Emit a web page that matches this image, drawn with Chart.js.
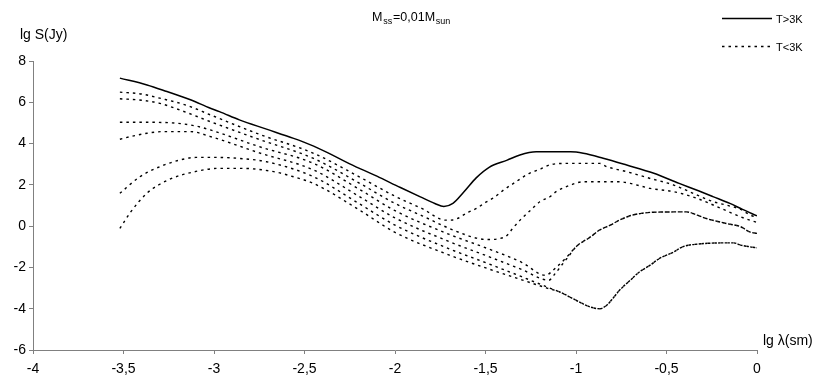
<!DOCTYPE html>
<html>
<head>
<meta charset="utf-8">
<script src="https://cdn.jsdelivr.net/npm/chart.js@4.4.1/dist/chart.umd.min.js"></script>
<style>
  html, body { margin: 0; padding: 0; background: #fff; }
</style>
</head>
<body>
<canvas id="chart" width="830" height="392"></canvas>
<script>
const FONT = '"Liberation Sans", Arial, sans-serif';

// lg lambda (sm) / lg S (Jy)
const hotX = [-3.52, -3.37, -3.26, -3.13, -3.02, -2.97, -2.86, -2.71, -2.56, -2.47, -2.37, -2.25, -2.10, -1.97, -1.86, -1.78, -1.73, -1.68, -1.62, -1.55, -1.48, -1.38, -1.31, -1.22, -1.03, -0.96, -0.85, -0.72, -0.57, -0.43, -0.32, -0.24, -0.15, -0.08, 0];
const hotY = [7.17, 6.84, 6.52, 6.12, 5.71, 5.55, 5.15, 4.70, 4.25, 3.95, 3.55, 3.02, 2.42, 1.87, 1.42, 1.10, 0.95, 1.10, 1.65, 2.35, 2.85, 3.20, 3.45, 3.60, 3.60, 3.53, 3.29, 2.96, 2.56, 2.07, 1.70, 1.42, 1.10, 0.81, 0.50];

const cold1X = [-3.52, -3.4, -3.3, -3.15, -3.02, -2.75, -2.45, -2.2, -2.0, -1.85, -1.72, -1.68, -1.6, -1.55, -1.5, -1.45, -1.4, -1.34, -1.26, -1.2, -1.14, -1.05, -0.87, -0.83, -0.72, -0.59, -0.46, -0.33, -0.24, -0.17, -0.09, -0.04, 0];
const cold1Y = [6.49, 6.40, 6.20, 5.85, 5.39, 4.45, 3.53, 2.40, 1.45, 0.85, 0.29, 0.30, 0.65, 0.86, 1.15, 1.40, 1.75, 2.10, 2.55, 2.75, 2.98, 3.04, 3.04, 2.88, 2.64, 2.31, 1.99, 1.50, 1.18, 1.02, 0.81, 0.55, 0.42];

const cold2X = [-3.52, -3.4, -3.3, -3.15, -3.02, -2.75, -2.45, -2.2, -2.0, -1.85, -1.7, -1.6, -1.55, -1.49, -1.42, -1.38, -1.35, -1.3, -1.25, -1.2, -1.14, -1.11, -1.03, -0.96, -0.76, -0.70, -0.59, -0.46, -0.33, -0.22, -0.09, -0.04, 0];
const cold2Y = [6.17, 6.10, 5.95, 5.50, 5.06, 4.20, 3.28, 2.10, 1.10, 0.50, -0.11, -0.45, -0.58, -0.65, -0.60, -0.44, -0.11, 0.37, 0.78, 1.18, 1.45, 1.67, 1.99, 2.15, 2.15, 2.07, 1.83, 1.67, 1.34, 0.94, 0.45, 0.29, 0.18];

const cold3X = [-3.52, -3.35, -3.2, -3.1, -3.02, -2.75, -2.45, -2.2, -2.0, -1.7, -1.49, -1.3, -1.17, -1.11, -1.05, -1.0, -0.92, -0.87, -0.81, -0.76, -0.69, -0.55, -0.39, -0.33, -0.28, -0.17, -0.09, -0.04, 0];
const cold3Y = [5.03, 5.03, 4.98, 4.85, 4.66, 3.85, 3.04, 1.80, 0.75, -0.40, -1.08, -1.75, -2.38, -2.00, -1.49, -1.00, -0.52, -0.19, 0.05, 0.29, 0.53, 0.68, 0.69, 0.53, 0.37, 0.13, -0.03, -0.28, -0.35];

const cold4X = [-3.52, -3.46, -3.37, -3.28, -3.13, -3.02, -2.75, -2.45, -2.2, -2.0, -1.7, -1.49, -1.3, -1.15, -1.12, -1.08, -1.04, -1.0, -0.92, -0.87, -0.81, -0.76, -0.69, -0.55, -0.39, -0.33, -0.28, -0.17, -0.09, -0.04, 0];
const cold4Y = [4.21, 4.34, 4.50, 4.58, 4.58, 4.34, 3.55, 2.72, 1.45, 0.40, -0.75, -1.45, -2.10, -2.62, -2.35, -1.90, -1.45, -1.00, -0.52, -0.19, 0.05, 0.29, 0.53, 0.68, 0.69, 0.53, 0.37, 0.13, -0.03, -0.28, -0.35];

const cold5X = [-3.52, -3.41, -3.30, -3.19, -3.1, -2.98, -2.86, -2.71, -2.45, -2.2, -2.0, -1.7, -1.49, -1.3, -1.16, -1.09, -1.0, -0.92, -0.87, -0.83, -0.79, -0.76, -0.70, -0.65, -0.59, -0.54, -0.46, -0.41, -0.33, -0.13, -0.09, -0.04, 0];
const cold5Y = [1.59, 2.39, 2.88, 3.20, 3.33, 3.33, 3.28, 3.12, 2.39, 1.10, 0.05, -1.10, -1.80, -2.45, -2.95, -3.19, -3.59, -3.92, -4.00, -3.83, -3.43, -3.11, -2.62, -2.22, -1.89, -1.57, -1.25, -1.00, -0.87, -0.81, -0.92, -1.00, -1.05];

const cold6X = [-3.52, -3.46, -3.37, -3.25, -3.1, -2.97, -2.85, -2.67, -2.56, -2.45, -2.2, -2.0, -1.7, -1.49, -1.3, -1.16, -1.09, -1.0, -0.92, -0.87, -0.83, -0.79, -0.76, -0.70, -0.65, -0.59, -0.54, -0.46, -0.41, -0.33, -0.13, -0.09, -0.04, 0];
const cold6Y = [-0.11, 0.69, 1.60, 2.25, 2.65, 2.80, 2.80, 2.64, 2.39, 2.07, 0.80, -0.30, -1.40, -2.05, -2.60, -3.00, -3.19, -3.59, -3.92, -4.00, -3.83, -3.43, -3.11, -2.62, -2.22, -1.89, -1.57, -1.25, -1.00, -0.87, -0.81, -0.92, -1.00, -1.05];

const legendLabels = ['T>3K', 'T<3K'];
const xTickStep = 0.5;
const yTickStep = 2;
const xRange = [-4, 0];
const yRange = [-6, 8];

const toPoints = (xs, ys) => xs.map((x, i) => ({ x: x, y: ys[i] }));

const solidStyle = { borderColor: '#000', borderWidth: 1.5, borderDash: [] };
const dotStyle = { borderColor: '#000', borderWidth: 1.4, borderDash: [2.5, 4] };

const datasets = [
  { label: legendLabels[0], data: toPoints(hotX, hotY), ...solidStyle },
  { label: legendLabels[1], data: toPoints(cold1X, cold1Y), ...dotStyle },
  { label: legendLabels[1], data: toPoints(cold2X, cold2Y), ...dotStyle },
  { label: legendLabels[1], data: toPoints(cold3X, cold3Y), ...dotStyle },
  { label: legendLabels[1], data: toPoints(cold4X, cold4Y), ...dotStyle },
  { label: legendLabels[1], data: toPoints(cold5X, cold5Y), ...dotStyle },
  { label: legendLabels[1], data: toPoints(cold6X, cold6Y), ...dotStyle },
];

// texts, title with subscripts, and the legend at top right
const labelsPlugin = {
  id: 'labels',
  afterDraw(chart) {
    const ctx = chart.ctx;
    const area = chart.chartArea;
    ctx.save();
    ctx.fillStyle = '#000';
    ctx.textBaseline = 'alphabetic';

    ctx.font = '14px ' + FONT;
    ctx.textAlign = 'left';
    ctx.fillText('lg S(Jy)', 20, 39);
    ctx.fillText('lg \u03bb(sm)', area.right + 6, area.bottom - 5);

    // M_ss=0,01M_sun
    let x = 372;
    const parts = [['M', false], ['ss', true], ['=0,01M', false], ['sun', true]];
    parts.forEach(([t, sub]) => {
      ctx.font = (sub ? '9px ' : '12.5px ') + FONT;
      ctx.fillText(t, x, sub ? 23.5 : 21);
      x += ctx.measureText(t).width + 0.8;
    });

    // legend
    ctx.font = '11px ' + FONT;
    const rows = [[datasets[0], 18.5], [datasets[1], 46.5]];
    rows.forEach(([ds, y]) => {
      ctx.save();
      ctx.strokeStyle = ds.borderColor;
      ctx.lineWidth = ds.borderWidth;
      ctx.setLineDash(ds.borderDash);
      ctx.beginPath();
      ctx.moveTo(722, y);
      ctx.lineTo(772, y);
      ctx.stroke();
      ctx.restore();
      ctx.fillText(ds.label, 776, y + 4);
    });
    ctx.restore();
  }
};

const axisStyle = {
  grid: { drawOnChartArea: false, drawTicks: true, tickLength: 4, color: '#808080' },
  border: { color: '#808080', width: 1 },
};

new Chart(document.getElementById('chart'), {
  type: 'scatter',
  data: { datasets: datasets },
  options: {
    responsive: false,
    animation: false,
    layout: { padding: { top: 61, right: 73, left: 0, bottom: 0 } },
    elements: {
      point: { radius: 0, hoverRadius: 0 },
      line: { tension: 0, fill: false, cubicInterpolationMode: 'monotone' }
    },
    datasets: { scatter: { showLine: true } },
    plugins: { legend: { display: false }, tooltip: { enabled: false }, title: { display: false } },
    scales: {
      x: {
        type: 'linear',
        min: xRange[0], max: xRange[1],
        ...axisStyle,
        ticks: {
          stepSize: xTickStep,
          color: '#000',
          padding: 7,
          font: { size: 14, family: FONT },
          callback: v => String(v).replace('.', ',')
        },
        afterFit: s => { s.height = 42; }
      },
      y: {
        type: 'linear',
        min: yRange[0], max: yRange[1],
        ...axisStyle,
        ticks: {
          stepSize: yTickStep,
          color: '#000',
          padding: 3,
          font: { size: 14, family: FONT }
        },
        afterFit: s => { s.width = 33; }
      }
    }
  },
  plugins: [labelsPlugin]
});
</script>
</body>
</html>
